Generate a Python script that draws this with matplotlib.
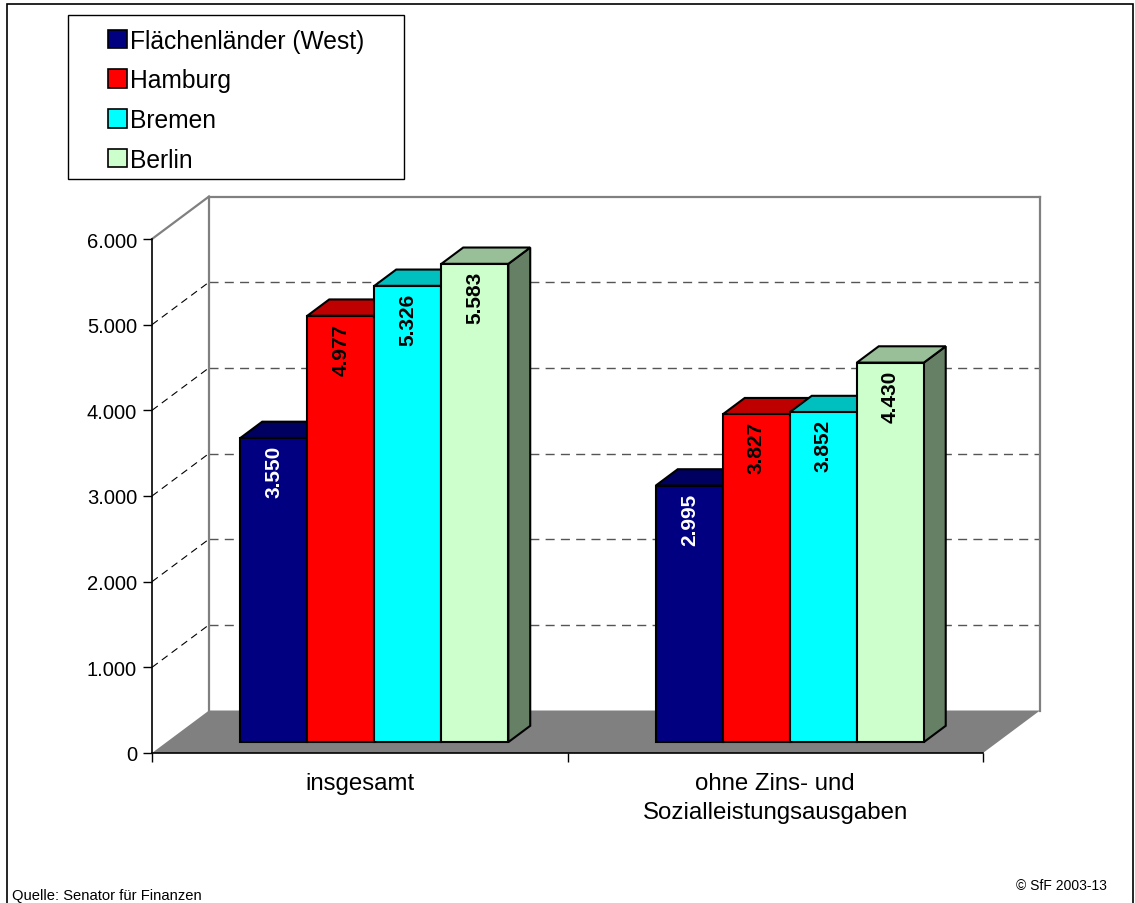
import matplotlib
matplotlib.use("Agg")
import matplotlib.pyplot as plt
import matplotlib.colors as mc
from matplotlib.patches import Polygon, Rectangle, Patch
from matplotlib.ticker import FixedLocator, FuncFormatter

plt.rcParams['font.family'] = ['Liberation Sans', 'DejaVu Sans']

# ---- data ----
categories = ["insgesamt", "ohne Zins- und\nSozialleistungsausgaben"]
series = ["Flächenländer (West)", "Hamburg", "Bremen", "Berlin"]
values = {
    "Flächenländer (West)": [3550, 2995],
    "Hamburg": [4977, 3827],
    "Bremen": [5326, 3852],
    "Berlin": [5583, 4430],
}
yticks = [0, 1000, 2000, 3000, 4000, 5000, 6000]
colors = ["#000080", "#FF0000", "#00FFFF", "#CCFFCC"]
label_colors = ["white", "black", "black", "black"]

W, H = 1135, 904
fig = plt.figure(figsize=(W / 100, H / 100), dpi=100)

# geometry (pixels) of the front plane
X0PX, CATPX = 152.0, 415.5
Y0PX, PXY = 754.0, (754.0 - 240.0) / 6000.0
XMIN, XMAX, YMIN, YMAX = -0.1, 2.2, -400, 6700
left = X0PX + XMIN * CATPX
bottom = Y0PX - YMIN * PXY
ax = fig.add_axes([left / W, (H - bottom) / H,
                   (XMAX - XMIN) * CATPX / W, (YMAX - YMIN) * PXY / H])
ax.set_xlim(XMIN, XMAX)
ax.set_ylim(YMIN, YMAX)
ax.patch.set_alpha(0)

DX = 57.0 / CATPX          # depth shift in category units
DY = 42.5 / PXY            # depth shift in value units
d0, d1 = 0.256, 0.64       # bar depth (fraction of total depth)
bw = 67.0 / CATPX
margin = (1 - 4 * bw) / 2
ymax = yticks[-1]

def P(x, y, d):
    return (x + d * DX, y + d * DY)

def shade(c, f):
    r, g, b = mc.to_rgb(c)
    return (r * f, g * f, b * f)

# floor
ax.add_patch(Polygon([P(0, 0, 0), P(2, 0, 0), P(2, 0, 1), P(0, 0, 1)],
                     closed=True, facecolor="#808080", edgecolor="none", zorder=1))
# walls outline
wall = dict(color="#808080", lw=1.6, zorder=1.5, solid_capstyle="projecting")
ax.plot(*zip(P(0, 0, 1), P(0, ymax, 1)), **wall)
ax.plot(*zip(P(0, ymax, 1), P(2, ymax, 1)), **wall)
ax.plot(*zip(P(2, 0, 1), P(2, ymax, 1)), **wall)
ax.plot(*zip(P(0, ymax, 0), P(0, ymax, 1)), **wall)
# gridlines
for v in yticks[1:-1]:
    ax.plot(*zip(P(0, v, 1), P(2, v, 1)), color="#555555", lw=1.0,
            dashes=(6.5, 4.5), zorder=1.2)
    ax.plot(*zip(P(0, v, 0), P(0, v, 1)), color="black", lw=0.8,
            dashes=(6.5, 4.5), zorder=1.2)

# bars
z = 2
for ci in range(len(categories)):
    for si, s in enumerate(series):
        v = values[s][ci]
        xa = ci + margin + si * bw
        xb = xa + bw
        col = colors[si]
        ek = dict(edgecolor="black", lw=1.5, joinstyle="miter", closed=True)
        ax.add_patch(Polygon([P(xb, 0, d0), P(xb, v, d0), P(xb, v, d1), P(xb, 0, d1)],
                             facecolor=shade(col, 0.5), zorder=z, **ek))
        ax.add_patch(Polygon([P(xa, v, d0), P(xb, v, d0), P(xb, v, d1), P(xa, v, d1)],
                             facecolor=shade(col, 0.75), zorder=z + 0.1, **ek))
        ax.add_patch(Polygon([P(xa, 0, d0), P(xb, 0, d0), P(xb, v, d0), P(xa, v, d0)],
                             facecolor=col, zorder=z + 0.2, **ek))
        lbl = f"{v:,}".replace(",", ".")
        ax.annotate(lbl, xy=P((xa + xb) / 2, v, d0), xytext=(0, -5),
                    textcoords="offset points", rotation=90, ha="center", va="top",
                    fontsize=15, fontweight="bold", color=label_colors[si],
                    zorder=z + 0.3)
        z += 1

# axes spines/ticks
for sp in ["top", "right"]:
    ax.spines[sp].set_visible(False)
ax.spines["left"].set_position(("data", 0))
ax.spines["left"].set_bounds(0, ymax)
ax.spines["bottom"].set_position(("data", 0))
ax.spines["bottom"].set_bounds(0, 2)
for sp in ["left", "bottom"]:
    ax.spines[sp].set_linewidth(1.2)
    ax.spines[sp].set_zorder(50)
ax.set_yticks(yticks)
ax.yaxis.set_major_formatter(FuncFormatter(lambda v, p: f"{int(v):,}".replace(",", ".")))
ax.tick_params(axis="y", length=6.5, width=1.0, pad=4.3, labelsize=14.5)
ax.set_xticks([0, 1, 2])
ax.set_xticklabels(["", "", ""])
ax.tick_params(axis="x", which="major", length=6.5, width=1.0)
ax.xaxis.set_minor_locator(FixedLocator([0.5, 1.5]))
ax.set_xticklabels(categories, minor=True)
ax.tick_params(axis="x", which="minor", length=0, pad=13.5, labelsize=17.3)
for t in ax.xaxis.get_minorticklabels():
    t.set_linespacing(1.45)

# legend
handles = [Patch(facecolor=c, edgecolor="black", lw=1.2) for c in colors]
leg = fig.legend(handles, series, loc="upper left",
                 bbox_to_anchor=(107.5 / W, 1 - 29.5 / H), borderaxespad=0, borderpad=0,
                 frameon=False, fontsize=17.7, handlelength=0.78, handleheight=0.78,
                 handletextpad=0.13, labelspacing=0.64)
fig.patches.append(Rectangle((68.3 / W, 1 - 180.3 / H), (404 - 68.3) / W, (180.3 - 15.7) / H,
                             transform=fig.transFigure, facecolor="none",
                             edgecolor="black", lw=1.0))
# figure border
fig.patches.append(Rectangle((7 / W, -0.05), (1133 - 7) / W, 1.05 - 5 / H,
                             transform=fig.transFigure, facecolor="none",
                             edgecolor="black", lw=1.2))

fig.text(12 / W, 1 - 900.5 / H, "Quelle: Senator für Finanzen", fontsize=10.6,
         va="baseline", ha="left")
fig.text(1107 / W, 1 - 890 / H, "© SfF 2003-13", fontsize=10,
         va="baseline", ha="right")

fig.savefig("out.png", dpi=100)
